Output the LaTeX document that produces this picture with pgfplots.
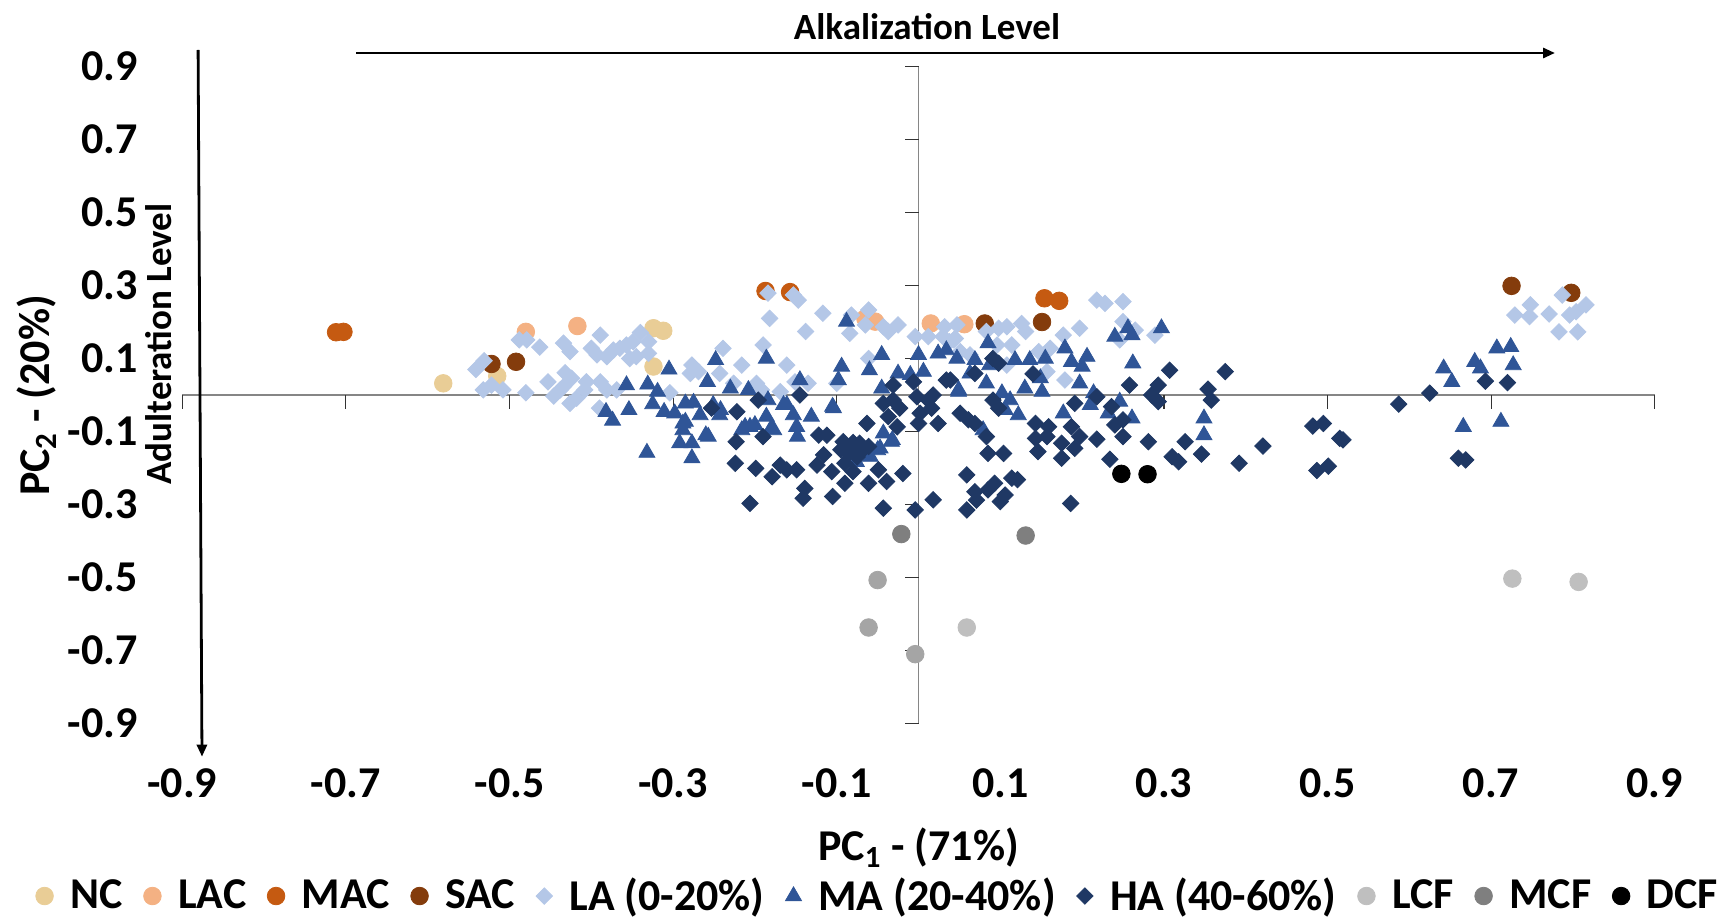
\documentclass[border=0pt]{standalone}
\usepackage{pgfplots}
\pgfplotsset{compat=1.18}
\usepackage{fontspec}
\setmainfont{Carlito}
\usetikzlibrary{arrows.meta}
\definecolor{cNC}{HTML}{E9CD96}
\definecolor{cLAC}{HTML}{F4B183}
\definecolor{cMAC}{HTML}{C55A11}
\definecolor{cSAC}{HTML}{843C0C}
\definecolor{cLA}{HTML}{B4C7E7}
\definecolor{cMA}{HTML}{2F5597}
\definecolor{cHA}{HTML}{1F3864}
\definecolor{cLCF}{HTML}{BFBFBF}
\definecolor{cMID}{HTML}{A5A5A5}
\definecolor{cMCF}{HTML}{7F7F7F}
\definecolor{cDCF}{HTML}{000000}
\definecolor{axgray}{HTML}{868686}
\begin{document}
\begin{tikzpicture}
\path[use as bounding box] (-91.15pt,-99.25pt) rectangle (776.35pt,361.75pt);
\begin{axis}[
  at={(0pt,0pt)}, anchor=south west,
  scale only axis, width=736.2pt, height=328.5pt,
  xmin=-0.9, xmax=0.9, ymin=-0.9, ymax=0.9,
  clip=false,
  axis line style={draw=none},
  major tick length=0pt,
  tick style={draw=none},
  xtick={-0.9,-0.7,-0.5,-0.3,-0.1,0.1,0.3,0.5,0.7,0.9},
  xticklabels={-0.9,-0.7,-0.5,-0.3,-0.1,0.1,0.3,0.5,0.7,0.9},
  ytick={-0.9,-0.7,-0.5,-0.3,-0.1,0.1,0.3,0.5,0.7,0.9},
  yticklabels={-0.9,-0.7,-0.5,-0.3,-0.1,0.1,0.3,0.5,0.7,0.9},
  tick label style={font=\fontsize{22}{26}\selectfont\bfseries, inner sep=0pt},
  xticklabel style={anchor=center, yshift=-29.75pt},
  yticklabel style={anchor=east, xshift=-22.15pt},
  legend columns=10,
  legend style={at={(axis description cs:0.4718,-0.2626)}, anchor=center,
    draw=none, fill=none, font=\fontsize{22}{26}\selectfont\bfseries,
    nodes={inner sep=0pt},
    /tikz/every odd column/.append style={column sep=8.5pt},
    /tikz/every even column/.append style={column sep=10.5pt}},
  legend image code/.code={\draw[#1] plot coordinates {(0pt,0pt)};},
  circ/.style={only marks, mark=*, mark size=4.4pt},
  diam/.style={only marks, mark=square*, mark size=2.9pt, mark options={rotate=45}},
  tri/.style={only marks, mark=triangle*, mark size=4.6pt},
]
% zero lines with ticks
\draw[axgray, line width=0.75pt] (axis cs:-0.9,0) -- (axis cs:0.9,0);
\draw[axgray, line width=0.75pt] (axis cs:0,-0.9) -- (axis cs:0,0.9);
\draw[black!80, line width=0.6pt]
  (axis cs:-0.9,0) -- ([yshift=-7pt]axis cs:-0.9,0)
  (axis cs:-0.7,0) -- ([yshift=-7pt]axis cs:-0.7,0)
  (axis cs:-0.5,0) -- ([yshift=-7pt]axis cs:-0.5,0)
  (axis cs:-0.3,0) -- ([yshift=-7pt]axis cs:-0.3,0)
  (axis cs:-0.1,0) -- ([yshift=-7pt]axis cs:-0.1,0)
  (axis cs:0.1,0) -- ([yshift=-7pt]axis cs:0.1,0)
  (axis cs:0.3,0) -- ([yshift=-7pt]axis cs:0.3,0)
  (axis cs:0.5,0) -- ([yshift=-7pt]axis cs:0.5,0)
  (axis cs:0.7,0) -- ([yshift=-7pt]axis cs:0.7,0)
  (axis cs:0.9,0) -- ([yshift=-7pt]axis cs:0.9,0)
  (axis cs:0,-0.9) -- ([xshift=-7pt]axis cs:0,-0.9)
  (axis cs:0,-0.7) -- ([xshift=-7pt]axis cs:0,-0.7)
  (axis cs:0,-0.5) -- ([xshift=-7pt]axis cs:0,-0.5)
  (axis cs:0,-0.3) -- ([xshift=-7pt]axis cs:0,-0.3)
  (axis cs:0,-0.1) -- ([xshift=-7pt]axis cs:0,-0.1)
  (axis cs:0,0.1) -- ([xshift=-7pt]axis cs:0,0.1)
  (axis cs:0,0.3) -- ([xshift=-7pt]axis cs:0,0.3)
  (axis cs:0,0.5) -- ([xshift=-7pt]axis cs:0,0.5)
  (axis cs:0,0.7) -- ([xshift=-7pt]axis cs:0,0.7)
  (axis cs:0,0.9) -- ([xshift=-7pt]axis cs:0,0.9);

\addplot[circ, color=cNC] table {
x y
-0.581 0.032
-0.515 0.052
-0.324 0.183
-0.312 0.176
-0.324 0.078
};
\addlegendentry{NC}
\addplot[circ, color=cLAC] table {
x y
-0.480 0.173
-0.417 0.189
-0.065 0.210
-0.053 0.201
0.015 0.196
0.056 0.194
};
\addlegendentry{LAC}
\addplot[circ, color=cMAC] table {
x y
-0.712 0.172
-0.703 0.173
-0.187 0.285
-0.157 0.282
0.154 0.265
0.172 0.258
};
\addlegendentry{MAC}
\addplot[circ, color=cSAC] table {
x y
-0.522 0.085
-0.492 0.091
0.081 0.196
0.151 0.200
0.725 0.299
0.798 0.280
};
\addlegendentry{SAC}
\addplot[diam, color=cLA] table {
x y
-0.541 0.070
-0.531 0.094
-0.532 0.014
-0.522 0.027
-0.508 0.014
-0.488 0.151
-0.479 0.151
-0.463 0.131
-0.480 0.006
-0.453 0.036
-0.446 -0.003
-0.434 0.142
-0.426 0.119
-0.432 0.061
-0.424 0.046
-0.434 0.023
-0.426 -0.023
-0.418 -0.009
-0.400 0.128
-0.389 0.164
-0.393 0.110
-0.381 0.105
-0.373 0.123
-0.365 0.128
-0.357 0.137
-0.349 0.146
-0.340 0.171
-0.330 0.146
-0.330 0.114
-0.353 0.100
-0.345 0.105
-0.406 0.036
-0.389 0.036
-0.381 0.014
-0.390 -0.036
-0.369 0.014
-0.304 0.006
-0.277 0.082
-0.279 0.059
-0.438 0.014
-0.408 0.014
-0.184 0.279
-0.153 0.274
-0.147 0.260
-0.182 0.210
-0.138 0.174
-0.117 0.224
-0.082 0.219
-0.061 0.233
-0.065 0.192
-0.084 0.169
-0.043 0.187
-0.025 0.192
-0.037 0.174
-0.004 0.160
0.012 0.160
0.032 0.187
0.030 0.160
0.043 0.151
0.038 0.146
-0.239 0.128
-0.190 0.137
-0.269 0.064
-0.243 0.059
-0.216 0.082
-0.161 0.082
-0.226 0.032
-0.198 0.032
-0.192 0.014
-0.169 0.009
-0.151 0.036
-0.135 0.032
-0.061 0.100
-0.100 0.032
0.218 0.260
0.228 0.251
0.250 0.256
0.047 0.192
0.098 0.183
0.108 0.187
0.126 0.196
0.131 0.174
0.083 0.174
0.045 0.155
0.096 0.137
0.114 0.137
0.177 0.164
0.197 0.183
0.051 0.119
0.063 0.110
0.147 0.119
0.161 0.128
0.108 0.082
0.157 0.064
0.179 0.041
0.250 0.201
0.265 0.178
0.246 0.151
0.289 0.164
0.729 0.219
0.748 0.247
0.747 0.215
0.771 0.222
0.787 0.274
0.796 0.219
0.804 0.228
0.816 0.247
0.783 0.173
0.806 0.173
};
\addlegendentry{LA (0-20\%)}
\addplot[tri, color=cMA] table {
x y
-0.357 0.027
-0.331 0.029
-0.319 0.009
-0.305 0.070
-0.382 -0.046
-0.374 -0.070
-0.354 -0.041
-0.325 -0.025
-0.311 -0.046
-0.285 -0.023
-0.275 -0.021
-0.285 -0.073
-0.292 -0.132
-0.277 -0.132
-0.277 -0.173
-0.332 -0.158
-0.288 -0.096
-0.088 0.201
-0.248 0.096
-0.186 0.100
-0.094 0.078
-0.060 0.068
-0.045 0.110
0.000 0.110
0.024 0.114
0.034 0.123
-0.258 0.036
-0.230 0.018
-0.208 0.014
-0.184 -0.014
-0.145 0.041
-0.098 0.041
-0.104 -0.036
-0.045 0.018
-0.025 0.059
0.006 0.064
-0.010 0.055
-0.251 -0.027
-0.243 -0.055
-0.267 -0.055
-0.288 -0.078
-0.257 -0.114
-0.206 -0.087
-0.186 -0.059
-0.177 -0.096
-0.161 -0.027
-0.153 -0.055
-0.149 -0.087
-0.131 -0.059
-0.216 -0.096
-0.043 -0.105
-0.033 -0.128
-0.047 -0.146
-0.059 -0.169
-0.076 -0.183
0.049 0.014
-0.298 -0.050
-0.260 -0.110
-0.242 -0.041
-0.212 -0.087
-0.200 -0.082
-0.180 -0.091
-0.165 -0.027
-0.148 -0.114
-0.105 -0.032
-0.050 -0.151
-0.032 -0.123
0.240 0.160
0.256 0.183
0.261 0.164
0.297 0.183
0.179 0.128
0.085 0.142
0.047 0.100
0.069 0.096
0.118 0.096
0.136 0.096
0.155 0.100
0.187 0.091
0.206 0.105
0.200 0.078
0.262 0.087
0.087 0.082
0.063 0.059
0.083 0.032
0.130 0.018
0.151 0.009
0.149 0.046
0.197 0.032
0.049 0.009
0.102 0.005
0.112 -0.014
0.106 -0.041
0.122 -0.055
0.177 -0.050
0.210 -0.027
0.214 0.005
0.232 -0.050
0.246 -0.018
0.261 -0.064
0.079 -0.096
0.349 -0.064
0.349 -0.110
0.642 0.073
0.652 0.036
0.680 0.091
0.687 0.073
0.707 0.128
0.724 0.132
0.727 0.082
0.666 -0.087
0.712 -0.073
};
\addlegendentry{MA (20-40\%)}
\addplot[diam, color=cHA] table {
x y
-0.253 -0.036
-0.222 -0.046
-0.196 -0.014
-0.145 0.000
-0.223 -0.128
-0.190 -0.114
-0.224 -0.187
-0.199 -0.201
-0.179 -0.224
-0.169 -0.192
-0.161 -0.205
-0.149 -0.205
-0.206 -0.297
-0.139 -0.256
-0.141 -0.283
-0.122 -0.110
-0.112 -0.110
-0.116 -0.164
-0.124 -0.192
-0.106 -0.210
-0.105 -0.278
-0.092 -0.128
-0.084 -0.146
-0.072 -0.132
-0.061 -0.141
-0.090 -0.187
-0.080 -0.210
-0.090 -0.242
-0.063 -0.078
-0.061 -0.242
-0.049 -0.205
-0.039 -0.237
-0.019 -0.215
-0.043 -0.310
-0.004 -0.315
0.018 -0.287
-0.031 0.027
-0.006 0.036
0.034 0.041
-0.043 -0.023
-0.031 -0.014
-0.023 -0.036
-0.037 -0.059
-0.026 -0.087
-0.002 -0.005
0.002 -0.050
0.000 -0.078
0.012 -0.014
0.018 0.000
0.016 -0.036
0.024 -0.078
-0.085 -0.160
-0.075 -0.170
-0.095 -0.150
-0.070 -0.155
-0.080 -0.130
0.091 0.100
0.098 0.087
0.069 0.059
0.140 0.058
0.039 0.041
0.307 0.068
0.375 0.064
0.258 0.027
0.293 0.027
0.285 0.000
0.293 -0.018
0.354 0.016
0.358 -0.014
0.218 -0.005
0.191 -0.023
0.236 -0.032
0.091 -0.014
0.098 -0.036
0.051 -0.050
0.061 -0.068
0.069 -0.078
0.143 -0.078
0.159 -0.087
0.187 -0.087
0.240 -0.082
0.250 -0.068
0.083 -0.114
0.143 -0.119
0.157 -0.114
0.175 -0.132
0.197 -0.114
0.218 -0.121
0.250 -0.114
0.281 -0.128
0.326 -0.128
0.191 -0.146
0.085 -0.160
0.104 -0.160
0.146 -0.155
0.175 -0.173
0.234 -0.176
0.310 -0.169
0.318 -0.183
0.346 -0.162
0.059 -0.219
0.069 -0.265
0.071 -0.288
0.059 -0.315
0.085 -0.260
0.093 -0.242
0.100 -0.292
0.106 -0.274
0.114 -0.228
0.121 -0.232
0.186 -0.297
0.392 -0.187
0.421 -0.140
0.482 -0.085
0.495 -0.078
0.515 -0.119
0.519 -0.123
0.487 -0.207
0.501 -0.195
0.587 -0.025
0.625 0.005
0.693 0.038
0.720 0.034
0.660 -0.173
0.669 -0.178
};
\addlegendentry{HA (40-60\%)}
\addplot[circ, color=cLCF] table {
x y
0.059 -0.637
0.726 -0.503
0.807 -0.512
};
\addlegendentry{LCF}
\addplot[circ, color=cMID, forget plot] table {
x y
-0.050 -0.507
-0.061 -0.637
-0.004 -0.710
};
\addplot[circ, color=cMCF] table {
x y
-0.021 -0.381
0.131 -0.385
};
\addlegendentry{MCF}
\addplot[circ, color=cDCF] table {
x y
0.248 -0.216
0.280 -0.217
};
\addlegendentry{DCF}
\end{axis}
% annotation arrows and titles
\draw[black, line width=1.4pt, -{Triangle[length=6pt,width=5pt]}] (86.85pt,335.25pt) -- (686.35pt,335.25pt);
\draw[black, line width=1.4pt, -{Triangle[length=6pt,width=5pt]}] (7.9pt,336.75pt) -- (9.85pt,-16.6pt);
\node[anchor=base, font=\fontsize{18.5}{22}\selectfont\bfseries, inner sep=0pt] at (372.35pt,341.95pt) {Alkalization Level};
\node[anchor=base, rotate=90, font=\fontsize{18.5}{22}\selectfont\bfseries, inner sep=0pt] at (-5.3pt,189.75pt) {Adulteration Level};
\node[anchor=base, rotate=90, font=\fontsize{22}{26}\selectfont\bfseries, inner sep=0pt] at (-66.15pt,164pt) {PC\textsubscript{2} - (20\%)};
\node[anchor=base, font=\fontsize{22}{26}\selectfont\bfseries, inner sep=0pt] at (368.1pt,-68.7pt) {PC\textsubscript{1} - (71\%)};
\end{tikzpicture}
\end{document}
